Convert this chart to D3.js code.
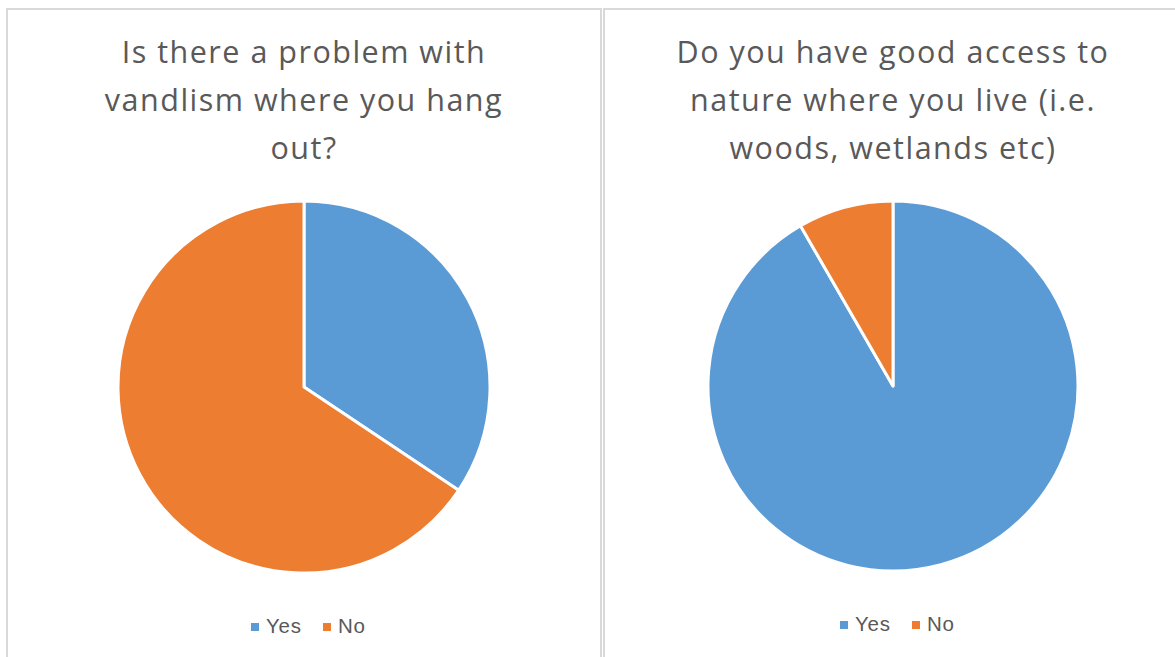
<!DOCTYPE html>
<html><head><meta charset="utf-8">
<script src="https://cdn.jsdelivr.net/npm/d3@7"></script>
<style>html,body{margin:0;padding:0;background:#fff;}svg{display:block;}</style>
</head><body>
<svg id="c" width="1175" height="657"></svg>
<script>
const categories = ["Yes", "No"];
const colors = ["#5B9BD5", "#ED7D31"];
const chart1Title = ["Is there a problem with", "vandlism where you hang", "out?"];
const chart1Values = [11, 21];
const chart2Title = ["Do you have good access to", "nature where you live (i.e.", "woods, wetlands etc)"];
const chart2Values = [11, 1];

const svg = d3.select("#c");
const font = "'Open Sans', sans-serif";

svg.append("rect").attr("x", 7).attr("y", 9).attr("width", 594).attr("height", 700)
  .attr("fill", "none").attr("stroke", "#d9d9d9").attr("stroke-width", 2);
svg.append("rect").attr("x", 604).attr("y", 9).attr("width", 600).attr("height", 700)
  .attr("fill", "none").attr("stroke", "#d9d9d9").attr("stroke-width", 2);

const color = d3.scaleOrdinal().domain(categories).range(colors);

function drawPie(cx, cy, r, values, title, legendX, legendY) {
  const g = svg.append("g");
  g.append("text").attr("x", cx).attr("y", 52).attr("text-anchor", "middle")
    .attr("font-family", font).attr("font-size", 30.5).attr("letter-spacing", 1.5).attr("fill", "#595959")
    .selectAll("tspan").data(title).join("tspan")
    .attr("x", cx).attr("dy", (d, i) => i === 0 ? 11 : 48).text(d => d);

  const data = categories.map((c, i) => ({cat: c, value: values[i]}));
  const pie = d3.pie().sort(null).value(d => d.value);
  const arc = d3.arc().innerRadius(0).outerRadius(r);
  g.append("g").attr("transform", `translate(${cx},${cy})`)
    .selectAll("path").data(pie(data)).join("path")
    .attr("d", arc).attr("fill", d => color(d.data.cat))
    .attr("stroke", "#fff").attr("stroke-width", 3).attr("stroke-linejoin", "round");

  const lg = g.append("g").attr("transform", `translate(${legendX},${legendY})`);
  const offsets = [0, 72];
  categories.forEach((c, i) => {
    lg.append("rect").attr("x", offsets[i]).attr("y", -10).attr("width", 8).attr("height", 8)
      .attr("fill", color(c));
    lg.append("text").attr("x", offsets[i] + 15).attr("y", 0)
      .attr("font-family", "'Liberation Sans', Arial, sans-serif").attr("font-size", 20.5)
      .attr("letter-spacing", 0.8).attr("fill", "#595959").text(c);
  });
}

drawPie(304, 387, 186, chart1Values, chart1Title, 251, 633);
drawPie(893, 386, 185, chart2Values, chart2Title, 840, 631);
</script>
</body></html>
